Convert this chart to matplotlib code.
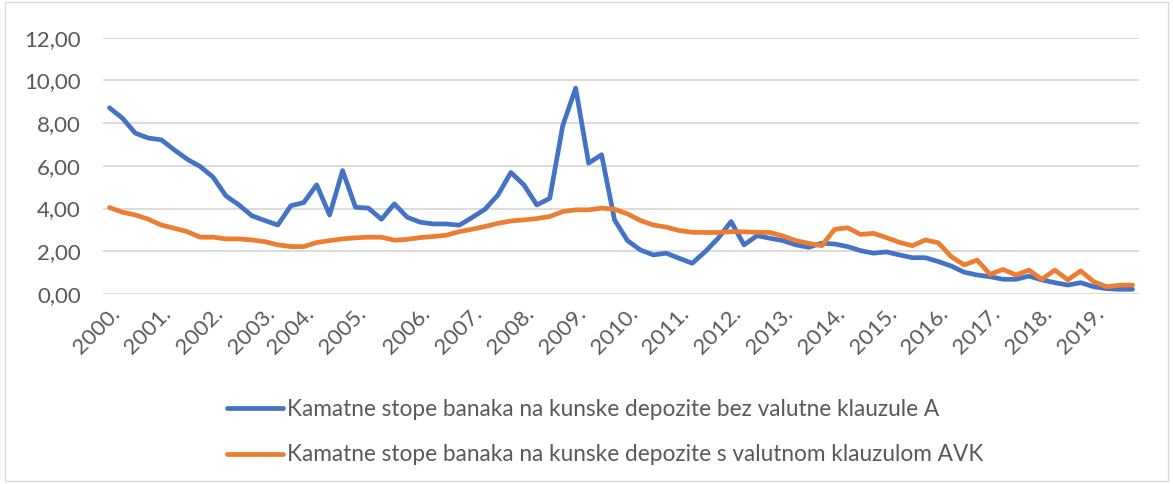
import matplotlib
matplotlib.use("Agg")
from matplotlib import pyplot as plt
from matplotlib.patches import Rectangle
import numpy as np

# quarterly values 2000 - 2019
bez_klauzule = [8.72, 8.23, 7.53, 7.30, 7.22, 6.75, 6.31, 5.97, 5.47, 4.59,
                4.17, 3.66, 3.44, 3.23, 4.13, 4.28, 5.11, 3.70, 5.78, 4.06,
                4.02, 3.50, 4.22, 3.59, 3.36, 3.28, 3.28, 3.22, 3.58, 3.97,
                4.64, 5.69, 5.11, 4.17, 4.48, 7.88, 9.64, 6.13, 6.52, 3.47,
                2.50, 2.06, 1.83, 1.91, 1.67, 1.44, 1.98, 2.61, 3.39, 2.30,
                2.73, 2.61, 2.50, 2.30, 2.19, 2.38, 2.34, 2.22, 2.03, 1.91,
                1.97, 1.83, 1.70, 1.70, 1.52, 1.31, 1.02, 0.89, 0.81, 0.69,
                0.69, 0.84, 0.66, 0.53, 0.42, 0.53, 0.34, 0.25, 0.22, 0.22]

s_klauzulom = [4.05, 3.83, 3.70, 3.50, 3.23, 3.08, 2.92, 2.66, 2.66, 2.58,
               2.58, 2.53, 2.45, 2.30, 2.22, 2.22, 2.41, 2.50, 2.58, 2.63,
               2.66, 2.66, 2.52, 2.56, 2.64, 2.69, 2.75, 2.92, 3.03, 3.16,
               3.31, 3.42, 3.47, 3.53, 3.63, 3.86, 3.94, 3.94, 4.02, 3.97,
               3.75, 3.44, 3.23, 3.13, 2.97, 2.89, 2.88, 2.88, 2.92, 2.91,
               2.89, 2.88, 2.72, 2.50, 2.37, 2.26, 3.03, 3.10, 2.79, 2.84,
               2.64, 2.42, 2.26, 2.53, 2.40, 1.75, 1.36, 1.59, 0.92, 1.15,
               0.89, 1.12, 0.69, 1.12, 0.66, 1.08, 0.58, 0.34, 0.41, 0.42]

# category positions that carry a year label (as in the source sheet)
label_pos = [0, 4, 8, 12, 15, 19, 24, 28, 32, 36, 40, 44, 48, 52, 56, 60, 64, 68, 72, 76]
label_txt = [str(y) + "." for y in range(2000, 2020)]

naziv_a = "Kamatne stope banaka na kunske depozite bez valutne klauzule A"
naziv_avk = "Kamatne stope banaka na kunske depozite s valutnom klauzulom AVK"

plt.rcParams['font.family'] = ['Lato', 'DejaVu Sans']

fig = plt.figure(figsize=(11.73, 4.84), dpi=100)
ax = fig.add_axes([103/1173, 190/484, 1036/1173, 256.3/484])

x = np.arange(len(bez_klauzule))
ax.plot(x, bez_klauzule, color="#4472C4", lw=3.4, solid_joinstyle="round",
        solid_capstyle="round", label=naziv_a)
ax.plot(x, s_klauzulom, color="#ED7D31", lw=3.4, solid_joinstyle="round",
        solid_capstyle="round", label=naziv_avk)

ax.set_xlim(-0.5, len(x) - 0.5)
ax.set_ylim(0, 12)
ax.set_yticks(np.arange(0, 13, 2))
ax.set_yticklabels([f"{v:.2f}".replace(".", ",") for v in np.arange(0, 13, 2)])
ax.set_xticks(label_pos)
ax.set_xticklabels(label_txt, rotation=45, ha="right", rotation_mode="anchor")

ax.grid(axis="y", color="#D9D9D9", lw=1.3)
ax.set_axisbelow(True)
for s in ax.spines.values():
    s.set_visible(False)
ax.tick_params(axis="y", length=0, pad=16, labelsize=16, labelcolor="#595959")
ax.tick_params(axis="x", length=0, pad=7, labelsize=16, labelcolor="#595959")

fig.legend(loc="center", bbox_to_anchor=(605/1173, 1 - 432/484), ncol=1,
           frameon=False, fontsize=16.3, handlelength=2.5, handletextpad=0.15,
           labelspacing=1.1, labelcolor="#595959")

# chart area border
fig.patches.append(Rectangle((0.004, 0.006), 0.992, 0.99, transform=fig.transFigure,
                             fill=False, edgecolor="#D9D9D9", lw=1))

fig.savefig("out.png", dpi=100)
